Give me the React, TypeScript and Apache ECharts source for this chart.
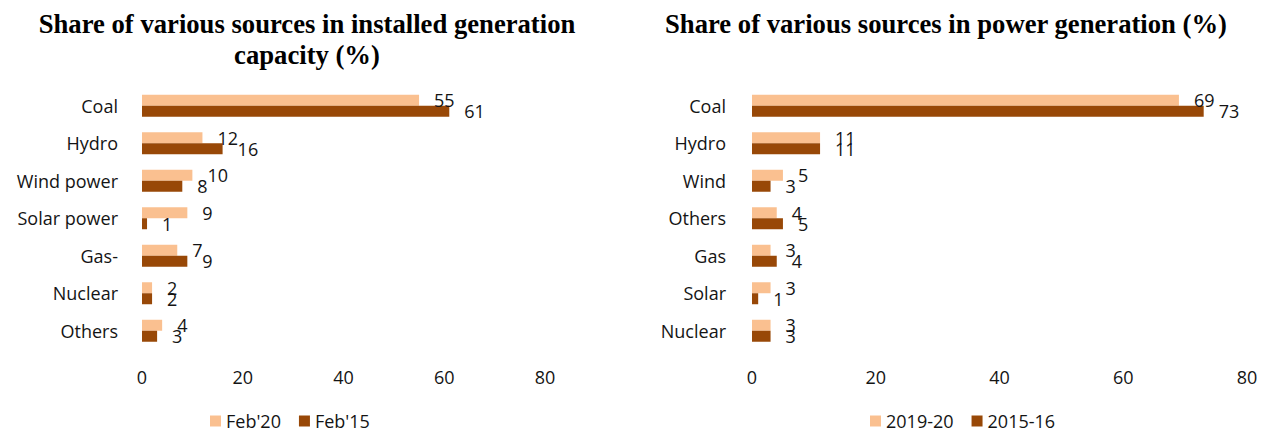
import React, { useEffect, useRef } from "react";
import * as echarts from "echarts";

const capacityCategories = ["Coal", "Hydro", "Wind power", "Solar power", "Gas-", "Nuclear", "Others"];
const capacityFeb20 = [55, 12, 10, 9, 7, 2, 4];
const capacityFeb15 = [61, 16, 8, 1, 9, 2, 3];

const generationCategories = ["Coal", "Hydro", "Wind", "Others", "Gas", "Solar", "Nuclear"];
const generation2019 = [69, 11, 5, 4, 3, 3, 3];
const generation2015 = [73, 11, 3, 5, 4, 1, 3];

const xTicks = [0, 20, 40, 60, 80];

const LIGHT = "#FAC090";
const DARK = "#984807";
const TEXT = "#141414";
const FONT = "'Open Sans', sans-serif";
const FS = 18;

export default function App() {
  const ref = useRef<HTMLDivElement>(null);
  useEffect(() => {
    if (!ref.current) return;
    const chart = echarts.init(ref.current, undefined, { renderer: "svg" });
    const titleStyle = {
      fontFamily: "'Liberation Serif', 'Times New Roman', serif",
      fontWeight: "bold" as const,
      fontSize: 26.67,
      lineHeight: 31,
      color: "#000",
    };
    const yAxis = (idx: number, cats: string[], margin: number) => ({
      type: "category",
      gridIndex: idx,
      data: cats,
      inverse: true,
      axisLine: { show: false },
      axisTick: { show: false },
      axisLabel: { fontFamily: FONT, fontSize: FS, color: TEXT, margin },
    });
    const xAxis = (idx: number) => ({
      type: "value",
      gridIndex: idx,
      min: xTicks[0],
      max: xTicks[xTicks.length - 1],
      interval: xTicks[1] - xTicks[0],
      axisLine: { show: false },
      axisTick: { show: false },
      splitLine: { show: false },
      axisLabel: { fontFamily: FONT, fontSize: FS, color: TEXT, margin: 18 },
    });
    const bar = (name: string, data: number[], color: string, idx: number) => ({
      type: "bar",
      name,
      data,
      xAxisIndex: idx,
      yAxisIndex: idx,
      barWidth: 11,
      barGap: "0%",
      itemStyle: { color },
      label: {
        show: true,
        position: "right",
        distance: 15,
        fontFamily: FONT,
        fontSize: FS,
        color: TEXT,
      },
    });
    chart.setOption({
      animation: false,
      backgroundColor: "#ffffff",
      title: [
        {
          text: "Share of various sources in installed generation\ncapacity (%)",
          left: 307,
          top: 8,
          padding: 0,
          textAlign: "center",
          textStyle: titleStyle,
        },
        {
          text: "Share of various sources in power generation (%)",
          left: 946,
          top: 8,
          padding: 0,
          textAlign: "center",
          textStyle: titleStyle,
        },
      ],
      legend: [
        {
          data: ["Feb'20", "Feb'15"],
          left: 210,
          top: 412,
          padding: 0,
          itemWidth: 11,
          itemHeight: 11,
          itemGap: 18,
          icon: "rect",
          textStyle: { fontFamily: FONT, fontSize: FS, color: TEXT },
        },
        {
          data: ["2019-20", "2015-16"],
          left: 870,
          top: 412,
          padding: 0,
          itemWidth: 11,
          itemHeight: 11,
          itemGap: 18,
          icon: "rect",
          textStyle: { fontFamily: FONT, fontSize: FS, color: TEXT },
        },
      ],
      grid: [
        { left: 142, width: 403, top: 87, height: 262.5 },
        { left: 752, width: 495, top: 87, height: 262.5 },
      ],
      xAxis: [xAxis(0), xAxis(1)],
      yAxis: [yAxis(0, capacityCategories, 24), yAxis(1, generationCategories, 26)],
      series: [
        bar("Feb'20", capacityFeb20, LIGHT, 0),
        bar("Feb'15", capacityFeb15, DARK, 0),
        bar("2019-20", generation2019, LIGHT, 1),
        bar("2015-16", generation2015, DARK, 1),
      ],
    });
    return () => chart.dispose();
  }, []);
  return (
    <div
      ref={ref}
      style={{ position: "absolute", left: 0, top: 0, width: 1261, height: 432 }}
    />
  );
}
